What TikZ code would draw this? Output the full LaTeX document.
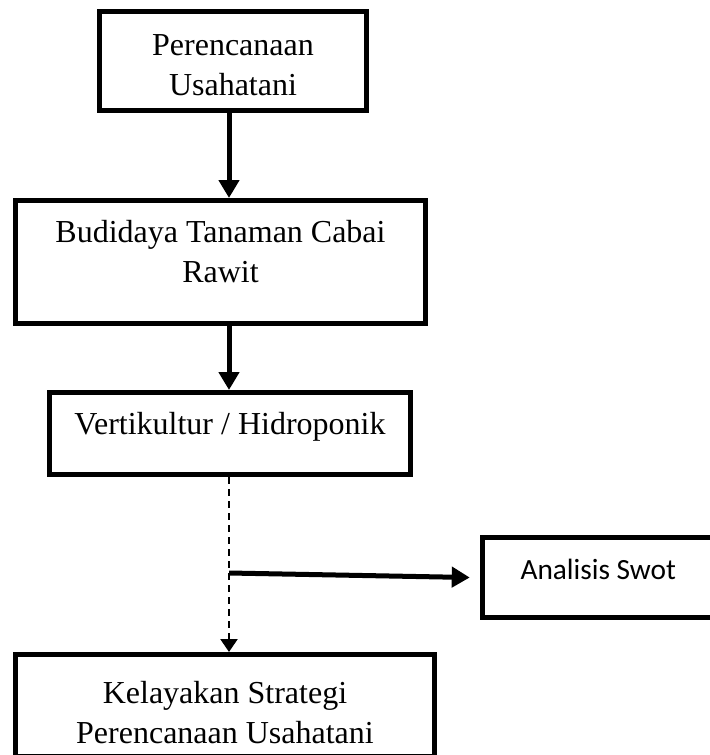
\documentclass[tikz,border=0pt]{standalone}
\usepackage{fontspec}
\setmainfont{Liberation Serif}
\newfontfamily\swotfont{Carlito}
\usetikzlibrary{arrows.meta, positioning, calc}
% struts to nudge text inside the boxes
\newcommand{\upby}[1]{\rule[-#1]{0pt}{#1}}
\newcommand{\downby}[1]{\rule{0pt}{#1}}

\begin{document}
\begin{tikzpicture}[
  x=0.5pt, y=-0.5pt,
  box/.style={rectangle, draw, line width=2.5pt, align=center, inner sep=0pt,
    font=\fontsize{16}{20}\selectfont},
  flow/.style={draw, line width=2.5pt, -{Triangle[length=9pt, width=10pt]}},
  dashflow/.style={draw, line width=1.2pt, dash pattern=on 3.5pt off 2.5pt,
    -{Triangle[length=6.5pt, width=8.5pt]}}
]
\useasboundingbox (0,0) rectangle (709,755);

\node[box, minimum width=133.5pt, minimum height=49.5pt] (plan) at (233,61)
  {\downby{15pt}Perencanaan\\Usahatani};
\node[box, minimum width=205pt, minimum height=61.5pt] (budidaya) at (220.5,262)
  {Budidaya Tanaman Cabai\\Rawit\upby{11pt}};
\node[box, minimum width=180.5pt, minimum height=41pt] (vertik) at (230,433.5)
  {Vertikultur / Hidroponik\upby{10.5pt}};
\node[box, minimum width=119.5pt, minimum height=40pt,
  font=\swotfont\fontsize{14.67}{18}\selectfont] (swot) at (602.25,577.5)
  {Analisis Swot\upby{8.5pt}\hspace{4pt}};
\node[box, minimum width=209.5pt, minimum height=50.75pt] (layak) at (225,705.25)
  {\downby{18pt}Kelayakan Strategi\\Perencanaan Usahatani};

\coordinate (spine) at (229,0);
\coordinate (branch) at (229,573);

\draw[flow] (plan.south -| spine) -- (budidaya.north -| spine);
\draw[flow] (budidaya.south -| spine) -- (vertik.north -| spine);
\draw[dashflow] (vertik.south -| spine) -- (layak.north -| spine);
\draw[flow] (branch) -- ([xshift=-5.25pt]swot.west);

\end{tikzpicture}
\end{document}
